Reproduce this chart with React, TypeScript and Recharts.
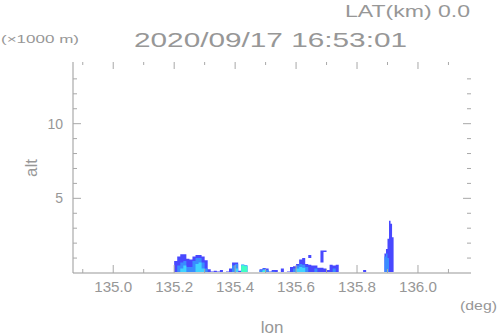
import { Area, ComposedChart, XAxis, YAxis } from 'recharts';

// longitude bins (deg), each value holds until the next bin
const lon = [
  135.2, 135.21, 135.22, 135.23, 135.24, 135.25, 135.26, 135.27, 135.28, 135.29,
  135.3, 135.31, 135.32, 135.33, 135.34, 135.35, 135.36, 135.37, 135.38, 135.39,
  135.4, 135.41, 135.42, 135.43, 135.44, 135.45, 135.46, 135.47, 135.48, 135.49,
  135.5, 135.51, 135.52, 135.53, 135.54, 135.55, 135.56, 135.57, 135.58, 135.59,
  135.6, 135.61, 135.62, 135.63, 135.64, 135.65, 135.66, 135.67, 135.68, 135.69,
  135.7, 135.71, 135.72, 135.73, 135.74, 135.82, 135.83, 135.89, 135.895, 135.9,
  135.905, 135.91, 135.915, 135.92,
];

// echo top heights per level (x1000 m)
const weak = [
  0.8, 1.1, 1.25, 1.25, 0.95, 0.9, 1.1, 1.2, 1.2, 1.1,
  0.85, 0.25, 0.1, 0.15, 0.1, 0.2, 0, 0.1, 0.3, 0.7,
  0.7, 0.15, 0.55, 0.5, 0, 0, 0, 0, 0.25, 0.33,
  0.3, 0.1, 0.2, 0.2, 0, 0.3, 0, 0.1, 0.4, 0.45,
  0.6, 0.9, 1.0, 0.6, 0.55, 0.5, 0.5, 0.35, 0.35, 0.3,
  0.2, 0.55, 0.5, 0.55, 0, 0.2, 0, 1.3, 1.6, 2.3,
  3.5, 3.3, 2.4, 0,
];
const moderate = [
  0, 0.5, 0.7, 0.8, 0.4, 0.4, 0.8, 1.0, 1.0, 0.7,
  0.3, 0, 0, 0, 0, 0, 0, 0, 0, 0.5,
  0.6, 0, 0.55, 0.5, 0, 0, 0, 0, 0.2, 0.28,
  0.2, 0, 0.1, 0, 0, 0, 0, 0, 0, 0.3,
  0.5, 0.6, 0.55, 0.4, 0, 0, 0.3, 0, 0, 0,
  0, 0, 0.3, 0, 0, 0, 0, 1.1, 1.3, 1.0,
  0, 0, 0, 0,
];
const strong = [
  0, 0, 0.3, 0.5, 0, 0, 0, 0.6, 0.7, 0.3,
  0, 0, 0, 0, 0, 0, 0, 0, 0, 0,
  0.3, 0, 0.55, 0.5, 0, 0, 0, 0, 0, 0.22,
  0, 0, 0, 0, 0, 0, 0, 0, 0, 0,
  0.3, 0.4, 0.35, 0, 0, 0, 0, 0, 0, 0,
  0, 0, 0, 0, 0, 0, 0, 0, 0, 0,
  0, 0, 0, 0,
];
const heavy = [
  0, 0, 0, 0, 0, 0, 0, 0, 0, 0,
  0, 0, 0, 0, 0, 0, 0, 0, 0, 0,
  0, 0, 0.5, 0.45, 0, 0, 0, 0, 0, 0.12,
  0, 0, 0, 0, 0, 0, 0, 0, 0, 0,
  0, 0, 0, 0, 0, 0, 0, 0, 0, 0,
  0, 0, 0, 0, 0, 0, 0, 0, 0, 0,
  0, 0, 0, 0,
];
// echoes aloft, bottom and top
const aloftBase = [0, 0, 0, 0, 0, 0, 0, 0, 0, 0, 0, 0, 0, 0, 0, 0, 0, 0, 0, 0, 0, 0, 0, 0, 0, 0, 0, 0, 0, 0, 0, 0, 0, 0, 0, 0, 0, 0, 0, 0, 0, 0, 0, 0, 1.0, 0, 0, 0, 0.7, 1.4, 0, 0, 0, 0, 0, 0, 0, 0, 0, 0, 0, 0, 0, 0];
const aloftTop = [0, 0, 0, 0, 0, 0, 0, 0, 0, 0, 0, 0, 0, 0, 0, 0, 0, 0, 0, 0, 0, 0, 0, 0, 0, 0, 0, 0, 0, 0, 0, 0, 0, 0, 0, 0, 0, 0, 0, 0, 0, 0, 0, 0, 1.2, 0, 0, 0, 1.5, 1.5, 0, 0, 0, 0, 0, 0, 0, 0, 0, 0, 0, 0, 0, 0];

const lonTicks = [134.9, 135.0, 135.1, 135.2, 135.3, 135.4, 135.5, 135.6, 135.7, 135.8, 135.9, 136.0, 136.1];
const altTicks = [1, 2, 3, 4, 5, 6, 7, 8, 9, 10, 11, 12, 13];

const data = lon.map((x, i) => ({
  lon: x,
  weak: weak[i],
  moderate: moderate[i],
  strong: strong[i],
  heavy: heavy[i],
  aloft: [aloftBase[i], aloftTop[i]],
}));

const W = 498;
const H = 336;
const TOP = 62;
const BOTTOM = 273;
const LEFT = 73;
const RIGHT = 471;
const TEXT = '#979797';
const TICK = '#a8a8a8';
const FONT = '"Liberation Sans", sans-serif';

function LonTick({ x, payload }: any) {
  const v = payload.value as number;
  const major = Math.round(v * 10) % 2 === 0;
  const len = major ? 8 : 4;
  return (
    <g>
      <line x1={x} x2={x} y1={BOTTOM} y2={BOTTOM - len} stroke={TICK} />
      <line x1={x} x2={x} y1={TOP} y2={TOP + len - 1} stroke={TICK} />
      {major && (
        <text x={x} y={292} textAnchor="middle" fill={TEXT} fontSize={14} fontFamily={FONT}
          textLength={38} lengthAdjust="spacingAndGlyphs">
          {v.toFixed(1)}
        </text>
      )}
    </g>
  );
}

function AltTick({ y, payload }: any) {
  const v = payload.value as number;
  const major = v % 5 === 0;
  const len = major ? 8 : 4;
  return (
    <g>
      <line x1={LEFT} x2={LEFT + len} y1={y} y2={y} stroke={TICK} />
      <line x1={RIGHT} x2={RIGHT - len} y1={y} y2={y} stroke={TICK} />
      {major && (
        <text x={63} y={y + 5} textAnchor="end" fill={TEXT} fontSize={14} fontFamily={FONT}>
          {v}
        </text>
      )}
    </g>
  );
}

export default function App() {
  return (
    <div style={{ position: 'absolute', left: 0, top: 0, width: W, height: H, background: '#fff' }}>
      <ComposedChart
        width={W}
        height={H}
        data={data}
        margin={{ top: TOP, right: W - RIGHT, bottom: H - BOTTOM - 30, left: LEFT - 40 }}
      >
        <XAxis
          dataKey="lon"
          type="number"
          domain={[134.868, 136.174]}
          allowDataOverflow
          ticks={lonTicks}
          interval={0}
          height={30}
          axisLine={{ stroke: '#cbcbcb', strokeWidth: 2 }}
          tickLine={false}
          tick={<LonTick />}
        />
        <XAxis
          xAxisId="top"
          orientation="top"
          dataKey="lon"
          type="number"
          domain={[134.868, 136.174]}
          allowDataOverflow
          height={0}
          axisLine={{ stroke: '#cbcbcb', strokeWidth: 2 }}
          tickLine={false}
          tick={false}
        />
        <YAxis
          type="number"
          domain={[0, 14.13]}
          allowDataOverflow
          ticks={altTicks}
          interval={0}
          width={40}
          axisLine={{ stroke: '#999999', strokeWidth: 1 }}
          tickLine={false}
          tick={<AltTick />}
        />
        <YAxis
          yAxisId="right"
          orientation="right"
          type="number"
          domain={[0, 14.13]}
          width={0}
          axisLine={{ stroke: '#cbcbcb', strokeWidth: 2 }}
          tickLine={false}
          tick={false}
        />
        <Area type="stepAfter" dataKey="weak" stroke="none" fill="#4848ff" fillOpacity={1} isAnimationActive={false} />
        <Area type="stepAfter" dataKey="aloft" stroke="none" fill="#4848ff" fillOpacity={1} isAnimationActive={false} />
        <Area type="stepAfter" dataKey="moderate" stroke="none" fill="#3a8cff" fillOpacity={1} isAnimationActive={false} />
        <Area type="stepAfter" dataKey="strong" stroke="none" fill="#40d4ff" fillOpacity={1} isAnimationActive={false} />
        <Area type="stepAfter" dataKey="heavy" stroke="none" fill="#40ffc4" fillOpacity={1} isAnimationActive={false} />
      </ComposedChart>
      <svg
        width={W}
        height={H}
        style={{ position: 'absolute', left: 0, top: 0, pointerEvents: 'none' }}
        fontFamily={FONT}
        fill={TEXT}
      >
        <text x={345} y={17} fontSize={16} textLength={125} lengthAdjust="spacingAndGlyphs">
          LAT(km) 0.0
        </text>
        <text x={1} y={43} fontSize={11} textLength={78} lengthAdjust="spacingAndGlyphs">
          (×1000 m)
        </text>
        <text x={134} y={47} fontSize={21} textLength={273} lengthAdjust="spacingAndGlyphs">
          2020/09/17 16:53:01
        </text>
        <text x={460} y={310} fontSize={13} textLength={37} lengthAdjust="spacingAndGlyphs">
          (deg)
        </text>
        <text x={272} y={333} fontSize={17} textAnchor="middle">
          lon
        </text>
        <text x={37} y={168} fontSize={17} textAnchor="middle" transform="rotate(-90 37 168)">
          alt
        </text>
      </svg>
    </div>
  );
}
